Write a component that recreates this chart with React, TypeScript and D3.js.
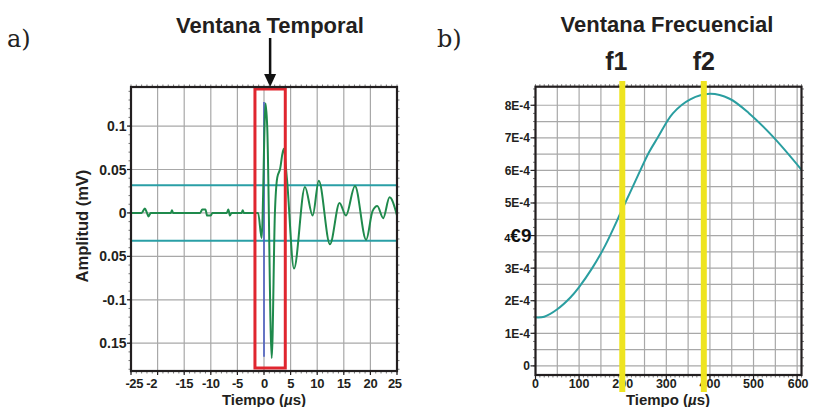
import React from "react";
import * as d3 from "d3";

// ---------- Panel a) data ----------
const waveT = [-25, -23.0, -22.4, -22.0, -21.7, -21.3, -17.5, -17.3, -17.1, -12.0, -11.6, -11.0, -10.7, -10.0, -9.7, -7.0, -6.7, -6.4, -6.1, -4.2, -4.0, -3.8, -1.1, -0.45, 0.3, 0.6, 1.45, 2.05, 2.5, 3.0, 3.7, 4.3, 5.64, 7.7, 9.15, 10.3, 12.4, 14.2, 15.4, 17.1, 19.2, 20.4, 21.3, 22.4, 23.6, 25];
const waveV = [0, 0, 0.005, 0, -0.004, 0, 0, 0.003, 0, 0, 0.004, 0.004, -0.003, -0.003, 0, 0, 0.004, -0.003, 0, 0, 0.003, 0, 0, -0.029, 0.126, 0.1, -0.167, 0, 0.041, 0.05, 0.074, 0.04, -0.064, 0.03, -0.003, 0.037, -0.036, 0.0115, -0.003, 0.031, -0.031, 0.002, 0.008, -0.006, 0.018, -0.003];
const thresholds = [0.032, -0.032];
const timeWindow = [-1.7, 4.0];
const blueSpike = { t: 0, lo: -0.1655, hi: 0.1276 };
const xTicksA = [-25, -20, -15, -10, -5, 0, 5, 10, 15, 20, 25];
const xTickLabelPosA = [-24.4, -21.1, -15, -10, -5, 0.1, 5, 10, 15, 20, 24.6];
const xTickLabelsA = ["-25", "-2", "-15", "-10", "-5", "0", "5", "10", "15", "20", "25"];
const yTicksA = [0.1, 0.05, 0, -0.05, -0.1, -0.15];
const yTickLabelsA = ["0.1", "0.05", "0", "0.05", "-0.1", "0.15"];

// ---------- Panel b) data ----------
const freqF = [0, 20, 50, 80, 100, 130, 160, 200, 230, 260, 280, 315, 355, 400, 445, 490, 545, 610];
const specV = [1.49, 1.51, 1.74, 2.1, 2.42, 3.0, 3.7, 4.84, 5.7, 6.55, 7.0, 7.75, 8.18, 8.35, 8.2, 7.75, 7.03, 6.02];
const fMarks = [199, 386];
const fLabels = ["f1", "f2"];
const xTicksB = [0, 100, 200, 300, 400, 500, 600];
const yTicksB = [8, 7, 6, 5, 4, 3, 2, 1, 0];
const yTickLabelsB = ["8E-4", "7E-4", "6E-4", "5E-4", "4E-4", "3E-4", "2E-4", "1E-4", "0"];

const SANS = "'Liberation Sans', Arial, Helvetica, sans-serif";
const SERIF = "'DejaVu Serif', serif";
const GRID = "#a8a8a8";
const AXIS = "#231f20";

export default function App() {
  // panel a scales
  const xA = d3.scaleLinear().domain([-25, 25]).range([131, 397]);
  const yA = d3.scaleLinear().domain([-0.182, 0.145]).range([371, 87]);
  // panel b scales
  const xB = d3.scaleLinear().domain([0, 610]).range([535.5, 801.5]);
  const yB = d3.scaleLinear().domain([-0.28, 8.57]).range([375, 86.7]);

  const waveLine = d3
    .line<number>()
    .x((_, i) => xA(waveT[i]))
    .y((v) => yA(v))
    .curve(d3.curveMonotoneX);
  const specLine = d3
    .line<number>()
    .x((_, i) => xB(freqF[i]))
    .y((v) => yB(v))
    .curve(d3.curveCatmullRom);

  const gridXA = d3.range(-20, 25, 5);
  const gridYA = yTicksA;
  const minorXA = d3.range(-25, 25.01, 1);
  const minorYA = d3.range(-0.18, 0.145, 0.01);

  const gridXB = d3.range(0, 611, 50);
  const gridYB = d3.range(0, 8.01, 0.5);
  const minorXB = d3.range(0, 611, 10);
  const minorYB = d3.range(0, 8.51, 0.25);

  const [ax0, ax1] = xA.range();
  const [ay0, ay1] = [yA.range()[1], yA.range()[0]];
  const [bx0, bx1] = xB.range();
  const [by0, by1] = [yB.range()[1], yB.range()[0]];
  const arrowX = xA(d3.mean(timeWindow)!);

  return (
    <svg
      width={813}
      height={407}
      style={{ position: "absolute", left: 0, top: 0, background: "#fff" }}
      fontFamily={SANS}
    >
      <rect x={0} y={0} width={813} height={407} fill="#fff" />

      {/* ================= Panel a ================= */}
      <text x={7} y={47} fontFamily={SERIF} fontSize={24} fill="#222">a)</text>
      <text x={270} y={33} textAnchor="middle" fontSize={22} fontWeight="bold" fill="#231f20">
        Ventana Temporal
      </text>
      {/* arrow */}
      <line x1={arrowX} x2={arrowX} y1={38} y2={76} stroke="#111" strokeWidth={2.5} />
      <path d={`M${arrowX - 6},74 L${arrowX + 6},74 L${arrowX},87 Z`} fill="#111" />

      {/* grid */}
      {gridXA.map((t) => (
        <line key={"gxa" + t} x1={xA(t)} x2={xA(t)} y1={ay0} y2={ay1} stroke={GRID} strokeWidth={1.2} />
      ))}
      {gridYA.map((v) => (
        <line key={"gya" + v} x1={ax0} x2={ax1} y1={yA(v)} y2={yA(v)} stroke={GRID} strokeWidth={1.2} />
      ))}
      {/* minor ticks */}
      {minorXA.map((t) => (
        <g key={"mxa" + t}>
          <line x1={xA(t)} x2={xA(t)} y1={ay0} y2={ay0 - 2.5} stroke="#555" strokeWidth={0.8} />
          <line x1={xA(t)} x2={xA(t)} y1={ay1} y2={ay1 + 2.5} stroke="#555" strokeWidth={0.8} />
        </g>
      ))}
      {minorYA.map((v) => (
        <g key={"mya" + v.toFixed(3)}>
          <line x1={ax0} x2={ax0 - 2.5} y1={yA(v)} y2={yA(v)} stroke="#555" strokeWidth={0.8} />
          <line x1={ax1} x2={ax1 + 2.5} y1={yA(v)} y2={yA(v)} stroke="#555" strokeWidth={0.8} />
        </g>
      ))}

      {/* threshold lines */}
      {thresholds.map((v) => (
        <line key={"th" + v} x1={ax0} x2={ax1} y1={yA(v)} y2={yA(v)} stroke="#2a9fa6" strokeWidth={2} />
      ))}

      {/* blue spike */}
      <line
        x1={xA(blueSpike.t)}
        x2={xA(blueSpike.t)}
        y1={yA(blueSpike.hi)}
        y2={yA(blueSpike.lo)}
        stroke="#4b5fc2"
        strokeWidth={1.6}
      />
      {/* waveform */}
      <path d={waveLine(waveV) || ""} fill="none" stroke="#1f8a4c" strokeWidth={2} strokeLinejoin="round" />

      {/* red window */}
      <rect
        x={xA(timeWindow[0])}
        y={ay0 + 2}
        width={xA(timeWindow[1]) - xA(timeWindow[0])}
        height={ay1 - ay0 - 5}
        fill="none"
        stroke="#e0262f"
        strokeWidth={3}
      />

      {/* frame */}
      <rect x={ax0} y={ay0} width={ax1 - ax0} height={ay1 - ay0} fill="none" stroke={AXIS} strokeWidth={2.2} />

      {/* tick labels */}
      {yTicksA.map((v, i) => (
        <g key={"yla" + i}>
          <line x1={ax0} x2={ax0 - 4} y1={yA(v)} y2={yA(v)} stroke={AXIS} strokeWidth={1.2} />
          <text x={ax0 - 4.5} y={yA(v) + 5} textAnchor="end" fontSize={14} fontWeight="bold" fill="#231f20">
            {yTickLabelsA[i]}
          </text>
        </g>
      ))}
      {xTicksA.map((t, i) => (
        <g key={"xla" + i}>
          <line x1={xA(t)} x2={xA(t)} y1={ay1} y2={ay1 + 4} stroke={AXIS} strokeWidth={1.2} />
          <text
            x={xA(xTickLabelPosA[i])}
            y={388}
            textAnchor="middle"
            fontSize={13}
            letterSpacing={-0.4}
            fontWeight="bold"
            fill="#231f20"
          >
            {xTickLabelsA[i]}
          </text>
        </g>
      ))}
      <text
        transform={`translate(88,226) rotate(-90)`}
        textAnchor="middle"
        fontSize={16.5}
        fontWeight="bold"
        fill="#231f20"
      >
        Amplitud (mV)
      </text>
      <text x={264} y={405} textAnchor="middle" fontSize={15} fontWeight="bold" fill="#231f20">
        Tiempo (<tspan fontStyle="italic">µ</tspan>s)
      </text>

      {/* ================= Panel b ================= */}
      <text x={437} y={47} fontFamily={SERIF} fontSize={24} fill="#222">b)</text>
      <text x={667} y={32} textAnchor="middle" fontSize={22} fontWeight="bold" fill="#231f20">
        Ventana Frecuencial
      </text>

      {gridXB.map((f) => (
        <line key={"gxb" + f} x1={xB(f)} x2={xB(f)} y1={by0} y2={by1} stroke={GRID} strokeWidth={1.2} />
      ))}
      {gridYB.map((v) => (
        <line key={"gyb" + v} x1={bx0} x2={bx1} y1={yB(v)} y2={yB(v)} stroke={GRID} strokeWidth={1.2} />
      ))}
      {minorXB.map((f) => (
        <g key={"mxb" + f}>
          <line x1={xB(f)} x2={xB(f)} y1={by1} y2={by1 + 2.5} stroke="#555" strokeWidth={0.8} />
          <line x1={xB(f)} x2={xB(f)} y1={by0} y2={by0 - 2.5} stroke="#555" strokeWidth={0.8} />
        </g>
      ))}
      {minorYB.map((v) => (
        <g key={"myb" + v}>
          <line x1={bx0} x2={bx0 - 2.5} y1={yB(v)} y2={yB(v)} stroke="#555" strokeWidth={0.8} />
          <line x1={bx1} x2={bx1 + 2.5} y1={yB(v)} y2={yB(v)} stroke="#555" strokeWidth={0.8} />
        </g>
      ))}

      <path d={specLine(specV) || ""} fill="none" stroke="#2a9ea0" strokeWidth={2} />

      <rect x={bx0} y={by0} width={bx1 - bx0} height={by1 - by0} fill="none" stroke={AXIS} strokeWidth={2.2} />

      {yTicksB.map((v, i) => (
        <g key={"ylb" + i}>
          <line x1={bx0} x2={bx0 - 5} y1={yB(v)} y2={yB(v)} stroke={AXIS} strokeWidth={1.2} />
          {v === 4 ? (
            <text x={bx0 - 4} y={yB(v) + 6} textAnchor="end" fontWeight="bold" fill="#111">
              <tspan fontSize={11}>4</tspan>
              <tspan fontSize={19}>€9</tspan>
            </text>
          ) : (
            <text x={bx0 - 5.5} y={yB(v) + 4.5} textAnchor="end" fontSize={12} fontWeight="bold" fill="#231f20">
              {yTickLabelsB[i]}
            </text>
          )}
        </g>
      ))}
      {xTicksB.map((f) => (
        <g key={"xlb" + f}>
          <line x1={xB(f)} x2={xB(f)} y1={by1} y2={by1 + 5} stroke={AXIS} strokeWidth={1.2} />
          <text x={xB(f) + (f === 600 ? 1 : 0)} y={388} textAnchor="middle" fontSize={12.5} fontWeight="bold" fill="#231f20">
            {f}
          </text>
        </g>
      ))}
      <text x={668} y={405} textAnchor="middle" fontSize={15} fontWeight="bold" fill="#231f20">
        Tiempo (<tspan fontStyle="italic">µ</tspan>s)
      </text>

      {/* yellow frequency markers */}
      {fMarks.map((f, i) => (
        <g key={"fm" + i}>
          <line x1={xB(f)} x2={xB(f)} y1={81} y2={392} stroke="#eee420" strokeWidth={6} />
          <text x={xB(f) - (i === 0 ? 6 : 0)} y={70} textAnchor="middle" fontSize={25} fontWeight="bold" fill="#231f20">
            {fLabels[i]}
          </text>
        </g>
      ))}
    </svg>
  );
}
